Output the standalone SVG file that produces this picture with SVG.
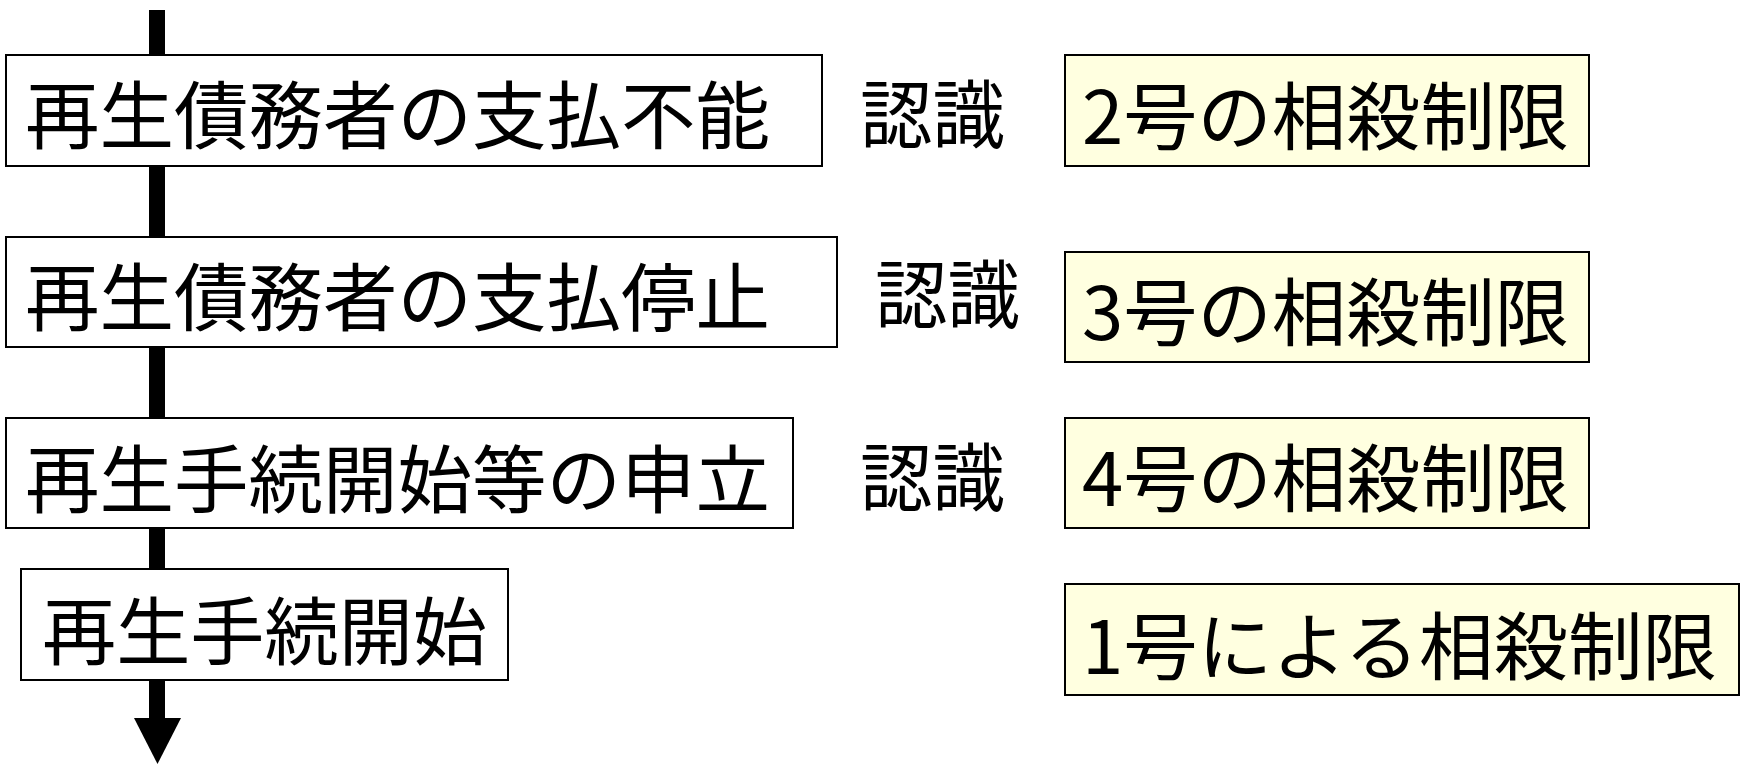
<svg xmlns="http://www.w3.org/2000/svg" width="1748" height="765" viewBox="0 0 1748 765">
<style>
text{font-family:"Noto Sans CJK JP","Liberation Sans",sans-serif;font-size:74px;fill:#000}
.w{fill:#fff;stroke:#000;stroke-width:2}
.y{fill:#ffffe0;stroke:#000;stroke-width:2}
</style>
<rect width="1748" height="765" fill="#fff"/>
<g id="connectors">
<line x1="157" y1="10" x2="157" y2="722" stroke="#000" stroke-width="16"/>
<polygon points="134,718 181,718 157.5,764" fill="#000"/>
</g>
<g id="n1"><rect class="w" x="6" y="55" width="816" height="111"/><text x="25" y="143" textLength="745" lengthAdjust="spacingAndGlyphs">再生債務者の支払不能</text></g>
<g id="n2"><rect class="w" x="6" y="237" width="831" height="110"/><text x="25" y="325" textLength="745" lengthAdjust="spacingAndGlyphs">再生債務者の支払停止</text></g>
<g id="n3"><rect class="w" x="6" y="418" width="787" height="110"/><text x="25" y="507" textLength="745" lengthAdjust="spacingAndGlyphs">再生手続開始等の申立</text></g>
<g id="n4"><rect class="w" x="21" y="569" width="487" height="111"/><text x="42" y="659" textLength="445" lengthAdjust="spacingAndGlyphs">再生手続開始</text></g>
<g id="r1"><text x="860" y="142" textLength="145" lengthAdjust="spacingAndGlyphs">認識</text></g>
<g id="r2"><text x="875" y="322" textLength="145" lengthAdjust="spacingAndGlyphs">認識</text></g>
<g id="r3"><text x="860" y="505" textLength="145" lengthAdjust="spacingAndGlyphs">認識</text></g>
<g id="s2"><rect class="y" x="1065" y="55" width="524" height="111"/><text x="1082" y="144" textLength="487" lengthAdjust="spacingAndGlyphs">2号の相殺制限</text></g>
<g id="s3"><rect class="y" x="1065" y="252" width="524" height="110"/><text x="1082" y="340" textLength="487" lengthAdjust="spacingAndGlyphs">3号の相殺制限</text></g>
<g id="s4"><rect class="y" x="1065" y="418" width="524" height="110"/><text x="1082" y="506" textLength="487" lengthAdjust="spacingAndGlyphs">4号の相殺制限</text></g>
<g id="s1"><rect class="y" x="1065" y="584" width="674" height="111"/><text x="1082" y="674" textLength="635" lengthAdjust="spacingAndGlyphs">1号による相殺制限</text></g>
</svg>
